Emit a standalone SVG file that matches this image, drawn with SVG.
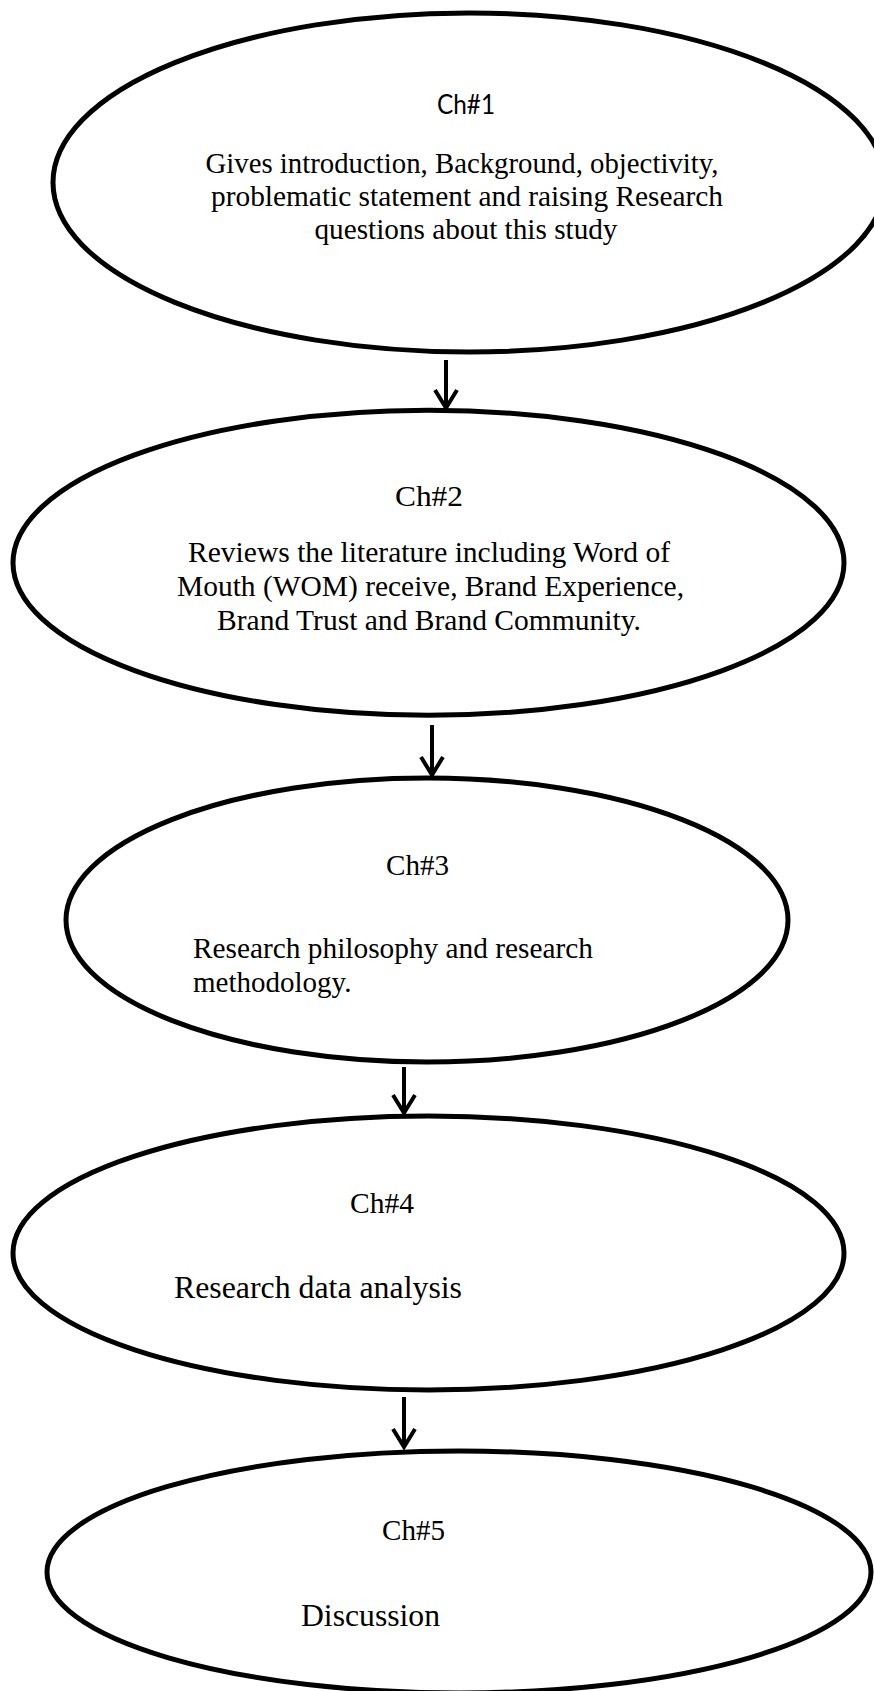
<svg xmlns="http://www.w3.org/2000/svg" width="874" height="1691" viewBox="0 0 874 1691">
<style>
.node{fill:#ffffff;stroke:#000000;stroke-width:5}
.serif{font-family:"Liberation Serif","Times New Roman",serif;fill:#000000}
.sans{font-family:Lato,"Liberation Sans",sans-serif;fill:#000000}
.conn{stroke:#000000;stroke-width:4;fill:none}
</style>
<defs>
<marker id="arrow" markerUnits="userSpaceOnUse" orient="auto" refX="0" refY="0" markerWidth="30" markerHeight="30" overflow="visible">
<path d="M-18,-11 L0,0 L-18,11" fill="none" stroke="#000000" stroke-width="4" stroke-linejoin="miter"/>
</marker>
</defs>
<rect x="0" y="0" width="874" height="1691" fill="#ffffff"/>
<g id="ch1">
<ellipse class="node" cx="469" cy="182.5" rx="416" ry="169.5"/>
<text class="sans" x="466" y="114" font-size="26" text-anchor="middle" textLength="58" lengthAdjust="spacingAndGlyphs">Ch#1</text>
<text class="serif" x="462" y="173" font-size="29" text-anchor="middle" textLength="513" lengthAdjust="spacingAndGlyphs">Gives introduction, Background, objectivity,</text>
<text class="serif" x="467" y="206" font-size="29" text-anchor="middle" textLength="512" lengthAdjust="spacingAndGlyphs">problematic statement and raising Research</text>
<text class="serif" x="466" y="239" font-size="29" text-anchor="middle" textLength="303" lengthAdjust="spacingAndGlyphs">questions about this study</text>
</g>
<g id="ch2">
<ellipse class="node" cx="428.5" cy="562.75" rx="415.5" ry="152.5"/>
<text class="serif" x="429" y="506" font-size="30" text-anchor="middle" textLength="68" lengthAdjust="spacingAndGlyphs">Ch#2</text>
<text class="serif" x="429" y="562" font-size="29" text-anchor="middle" textLength="482" lengthAdjust="spacingAndGlyphs">Reviews the literature including Word of</text>
<text class="serif" x="430.5" y="596" font-size="29" text-anchor="middle" textLength="507" lengthAdjust="spacingAndGlyphs">Mouth (WOM) receive, Brand Experience,</text>
<text class="serif" x="429" y="630" font-size="29" text-anchor="middle" textLength="424" lengthAdjust="spacingAndGlyphs">Brand Trust and Brand Community.</text>
</g>
<g id="ch3">
<ellipse class="node" cx="427" cy="920" rx="361" ry="142"/>
<text class="serif" x="417.5" y="875" font-size="29" text-anchor="middle" textLength="63" lengthAdjust="spacingAndGlyphs">Ch#3</text>
<text class="serif" x="193" y="958" font-size="29" textLength="400" lengthAdjust="spacingAndGlyphs">Research philosophy and research</text>
<text class="serif" x="193" y="992" font-size="29">methodology.</text>
</g>
<g id="ch4">
<ellipse class="node" cx="428.5" cy="1253" rx="415.5" ry="137"/>
<text class="serif" x="382" y="1213" font-size="29" text-anchor="middle" textLength="64" lengthAdjust="spacingAndGlyphs">Ch#4</text>
<text class="serif" x="174" y="1298" font-size="32" textLength="288" lengthAdjust="spacingAndGlyphs">Research data analysis</text>
</g>
<g id="ch5">
<ellipse class="node" cx="459" cy="1572" rx="412" ry="121"/>
<text class="serif" x="413.5" y="1540" font-size="29" text-anchor="middle" textLength="63" lengthAdjust="spacingAndGlyphs">Ch#5</text>
<text class="serif" x="301" y="1626" font-size="32" textLength="139" lengthAdjust="spacingAndGlyphs">Discussion</text>
</g>
<g id="connectors">
<line class="conn" x1="446" y1="360" x2="446" y2="408" marker-end="url(#arrow)"/>
<line class="conn" x1="432" y1="725" x2="432" y2="775" marker-end="url(#arrow)"/>
<line class="conn" x1="404" y1="1067" x2="404" y2="1113" marker-end="url(#arrow)"/>
<line class="conn" x1="404" y1="1397" x2="404" y2="1447" marker-end="url(#arrow)"/>
</g>
</svg>
